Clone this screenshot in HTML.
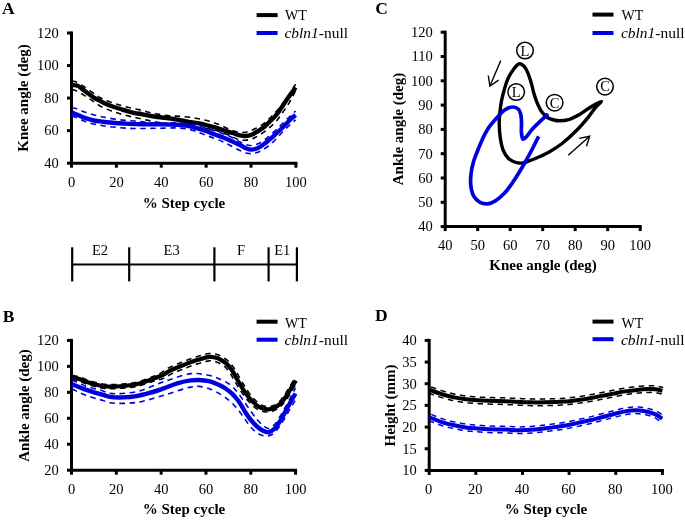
<!DOCTYPE html>
<html><head><meta charset="utf-8"><style>
html,body{margin:0;padding:0;background:#fff;}
body{width:685px;height:520px;overflow:hidden;}
svg{display:block;will-change:transform;filter:blur(0.3px);}
svg text{font-family:"Liberation Serif",serif;fill:#000;}
</style></head><body>
<svg width="685" height="520" viewBox="0 0 685 520">
<rect width="685" height="520" fill="#fff"/>
<text x="2" y="13.9" font-size="17.5" text-anchor="start" font-weight="bold" font-style="normal" >A</text>
<line x1="71.5" y1="31.5" x2="71.5" y2="164.7" stroke="#000" stroke-width="3.0" stroke-linecap="butt" />
<line x1="70.0" y1="163.2" x2="297.4" y2="163.2" stroke="#000" stroke-width="3.0" stroke-linecap="butt" />
<line x1="67.0" y1="163.2" x2="71.5" y2="163.2" stroke="#000" stroke-width="3.0" stroke-linecap="butt" />
<line x1="67.0" y1="130.64999999999998" x2="71.5" y2="130.64999999999998" stroke="#000" stroke-width="3.0" stroke-linecap="butt" />
<line x1="67.0" y1="98.1" x2="71.5" y2="98.1" stroke="#000" stroke-width="3.0" stroke-linecap="butt" />
<line x1="67.0" y1="65.55" x2="71.5" y2="65.55" stroke="#000" stroke-width="3.0" stroke-linecap="butt" />
<line x1="67.0" y1="33.0" x2="71.5" y2="33.0" stroke="#000" stroke-width="3.0" stroke-linecap="butt" />
<line x1="71.5" y1="163.2" x2="71.5" y2="167.7" stroke="#000" stroke-width="3.0" stroke-linecap="butt" />
<line x1="116.38" y1="163.2" x2="116.38" y2="167.7" stroke="#000" stroke-width="3.0" stroke-linecap="butt" />
<line x1="161.26" y1="163.2" x2="161.26" y2="167.7" stroke="#000" stroke-width="3.0" stroke-linecap="butt" />
<line x1="206.14" y1="163.2" x2="206.14" y2="167.7" stroke="#000" stroke-width="3.0" stroke-linecap="butt" />
<line x1="251.02" y1="163.2" x2="251.02" y2="167.7" stroke="#000" stroke-width="3.0" stroke-linecap="butt" />
<line x1="295.9" y1="163.2" x2="295.9" y2="167.7" stroke="#000" stroke-width="3.0" stroke-linecap="butt" />
<text x="58.7" y="168.0" font-size="14.5" text-anchor="end" font-weight="normal" font-style="normal" >40</text>
<text x="58.7" y="135.45" font-size="14.5" text-anchor="end" font-weight="normal" font-style="normal" >60</text>
<text x="58.7" y="102.89999999999999" font-size="14.5" text-anchor="end" font-weight="normal" font-style="normal" >80</text>
<text x="58.7" y="70.35" font-size="14.5" text-anchor="end" font-weight="normal" font-style="normal" >100</text>
<text x="58.7" y="37.8" font-size="14.5" text-anchor="end" font-weight="normal" font-style="normal" >120</text>
<text x="71.5" y="187.2" font-size="14.5" text-anchor="middle" font-weight="normal" font-style="normal" >0</text>
<text x="116.38" y="187.2" font-size="14.5" text-anchor="middle" font-weight="normal" font-style="normal" >20</text>
<text x="161.26" y="187.2" font-size="14.5" text-anchor="middle" font-weight="normal" font-style="normal" >40</text>
<text x="206.14" y="187.2" font-size="14.5" text-anchor="middle" font-weight="normal" font-style="normal" >60</text>
<text x="251.02" y="187.2" font-size="14.5" text-anchor="middle" font-weight="normal" font-style="normal" >80</text>
<text x="295.9" y="187.2" font-size="14.5" text-anchor="middle" font-weight="normal" font-style="normal" >100</text>
<text transform="translate(28.3,98) rotate(-90)" font-size="15" font-weight="bold" text-anchor="middle">Knee angle (deg)</text>
<text x="184" y="207.7" font-size="15" text-anchor="middle" font-weight="bold" font-style="normal" >% Step cycle</text>
<line x1="256.6" y1="15.1" x2="277.6" y2="15.1" stroke="#000" stroke-width="4" stroke-linecap="butt" />
<line x1="256.6" y1="33" x2="277.6" y2="33" stroke="#0000dc" stroke-width="4" stroke-linecap="butt" />
<text x="285" y="20.2" font-size="14" text-anchor="start" font-weight="normal" font-style="normal" >WT</text>
<text transform="translate(284.4,37.8) scale(1.075,1)" font-size="14.4"><tspan font-style="italic">cbln1</tspan>-null</text>
<path d="M72.00,81.30 C73.00,81.40 73.78,81.22 75.00,81.60 C77.22,82.28 80.92,84.62 83.80,86.40 C86.76,88.24 89.57,90.53 92.50,92.50 C95.41,94.46 98.23,96.58 101.30,98.20 C104.36,99.81 107.67,101.03 110.90,102.20 C114.07,103.35 117.32,104.26 120.50,105.20 C123.62,106.12 126.62,107.03 129.80,107.80 C133.08,108.60 136.59,109.11 139.90,109.90 C143.15,110.68 146.24,111.75 149.50,112.50 C152.81,113.26 156.23,113.85 159.60,114.40 C162.96,114.95 166.31,115.47 169.70,115.80 C173.11,116.14 176.63,116.14 180.00,116.40 C183.26,116.65 186.37,116.88 189.60,117.30 C192.93,117.74 196.39,118.34 199.70,119.00 C202.95,119.65 206.08,120.28 209.30,121.20 C212.65,122.16 216.18,123.40 219.40,124.70 C222.47,125.94 225.17,127.58 228.20,128.80 C231.30,130.05 234.68,131.56 237.80,132.10 C240.60,132.59 243.18,132.71 246.00,132.20 C249.22,131.61 252.92,129.85 256.00,128.30 C258.89,126.85 261.50,125.18 264.00,123.30 C266.50,121.42 268.71,119.24 271.00,117.00 C273.39,114.66 275.73,112.17 278.00,109.50 C280.40,106.69 282.50,104.00 285.00,100.50 C288.25,95.94 292.07,89.70 295.60,84.30" fill="none" stroke="#000" stroke-width="1.6" stroke-linejoin="round" stroke-linecap="butt" stroke-dasharray="5.5 4.5" />
<path d="M72.00,89.50 C73.00,89.77 73.77,89.81 75.00,90.30 C77.20,91.18 80.91,93.37 83.80,95.10 C86.74,96.86 89.59,98.89 92.50,100.80 C95.43,102.72 98.23,104.93 101.30,106.60 C104.36,108.26 107.67,109.58 110.90,110.80 C114.07,112.00 117.31,112.96 120.50,113.90 C123.61,114.82 126.62,115.64 129.80,116.40 C133.09,117.18 136.58,117.79 139.90,118.50 C143.14,119.19 146.26,119.92 149.50,120.60 C152.82,121.29 156.22,122.05 159.60,122.60 C162.96,123.15 166.31,123.50 169.70,123.90 C173.11,124.30 176.00,124.54 180.00,125.00 C185.57,125.65 193.83,126.54 200.00,127.50 C205.37,128.34 210.06,128.97 215.00,130.30 C220.03,131.65 225.75,133.89 229.90,135.60 C232.98,136.87 235.17,138.54 237.80,139.30 C240.20,139.99 242.71,140.25 245.00,140.20 C247.09,140.16 249.12,139.76 251.00,139.20 C252.78,138.67 254.23,137.93 256.00,137.00 C258.17,135.86 260.64,134.36 263.00,132.70 C265.63,130.85 268.58,128.47 271.00,126.30 C273.20,124.33 275.09,122.55 277.00,120.30 C279.10,117.83 281.02,114.82 283.00,112.00 C285.02,109.12 287.03,106.43 289.00,103.20 C291.24,99.52 293.40,95.07 295.60,91.00" fill="none" stroke="#000" stroke-width="1.6" stroke-linejoin="round" stroke-linecap="butt" stroke-dasharray="5.5 4.5" />
<path d="M72.00,85.10 C73.60,85.23 75.30,85.01 76.80,85.50 C78.33,86.00 79.69,87.12 81.10,88.10 C82.59,89.14 84.02,90.49 85.50,91.60 C86.95,92.69 88.43,93.67 89.90,94.70 C91.37,95.73 92.81,96.90 94.30,97.80 C95.71,98.65 97.16,99.24 98.60,100.00 C100.06,100.77 101.26,101.55 103.00,102.40 C105.41,103.57 108.85,105.09 111.80,106.20 C114.68,107.28 117.28,108.02 120.50,109.00 C124.46,110.20 129.81,111.89 133.80,112.80 C136.99,113.53 139.59,113.77 142.50,114.30 C145.43,114.84 148.37,115.50 151.30,116.00 C154.20,116.50 157.09,116.92 160.00,117.30 C162.92,117.68 165.88,117.90 168.80,118.30 C171.71,118.70 174.41,119.17 177.50,119.70 C181.02,120.31 185.28,121.19 188.80,121.80 C191.89,122.33 194.60,122.65 197.50,123.20 C200.43,123.75 203.38,124.40 206.30,125.10 C209.22,125.80 212.10,126.54 215.00,127.40 C217.94,128.27 220.87,129.36 223.80,130.30 C226.70,131.23 229.71,132.12 232.50,133.00 C235.09,133.82 237.64,134.91 240.00,135.40 C242.03,135.83 243.88,136.10 245.80,136.00 C247.72,135.90 249.65,135.50 251.50,134.80 C253.49,134.05 255.38,132.66 257.30,131.50 C259.25,130.33 261.24,129.24 263.10,127.80 C265.08,126.27 266.90,124.30 268.80,122.50 C270.73,120.67 272.84,118.86 274.60,116.90 C276.29,115.02 277.67,113.11 279.20,111.00 C280.88,108.68 282.56,105.92 284.20,103.50 C285.76,101.20 287.10,99.21 288.80,96.80 C290.83,93.92 293.33,90.53 295.60,87.40" fill="none" stroke="#000" stroke-width="4.4" stroke-linejoin="round" stroke-linecap="butt" />
<path d="M72.00,107.80 C73.33,108.03 74.41,108.05 76.00,108.50 C78.52,109.22 81.81,111.07 85.50,112.30 C90.41,113.93 96.80,115.69 103.00,117.00 C109.88,118.45 119.15,119.77 125.00,120.40 C128.84,120.82 131.36,120.72 134.60,121.00 C137.93,121.29 141.33,121.80 144.70,122.10 C148.06,122.40 151.44,122.65 154.80,122.80 C158.14,122.95 161.46,123.00 164.80,123.00 C168.16,123.00 171.83,122.74 174.90,122.80 C177.48,122.85 179.29,122.92 182.00,123.20 C185.69,123.59 190.24,124.17 195.00,125.20 C200.99,126.49 208.85,128.78 215.00,130.80 C220.40,132.58 225.41,134.42 230.00,136.50 C234.10,138.36 237.72,140.94 241.30,142.50 C244.34,143.82 247.07,145.36 250.00,145.50 C252.90,145.64 255.95,144.68 258.80,143.40 C261.97,141.98 265.07,139.31 268.00,137.00 C270.94,134.68 273.62,132.12 276.40,129.50 C279.28,126.79 281.97,123.93 285.00,121.00 C288.33,117.78 292.07,114.33 295.60,111.00" fill="none" stroke="#0000dc" stroke-width="1.6" stroke-linejoin="round" stroke-linecap="butt" stroke-dasharray="5.5 4.5" />
<path d="M72.00,116.00 C73.33,116.43 74.41,116.67 76.00,117.30 C78.52,118.29 81.78,120.43 85.50,121.70 C90.38,123.37 96.80,124.66 103.00,125.70 C109.88,126.86 119.09,127.66 125.00,128.10 C128.98,128.40 131.67,128.43 135.00,128.50 C138.33,128.57 141.67,128.53 145.00,128.50 C148.33,128.47 151.67,128.37 155.00,128.30 C158.33,128.23 161.67,128.17 165.00,128.10 C168.33,128.03 171.64,127.82 175.00,127.90 C178.41,127.98 181.95,128.06 185.30,128.60 C188.58,129.13 191.73,130.08 194.90,131.10 C198.13,132.14 201.29,133.60 204.50,134.80 C207.72,136.00 210.99,137.07 214.20,138.30 C217.42,139.53 220.76,140.79 223.80,142.20 C226.68,143.53 229.28,145.11 232.00,146.50 C234.68,147.87 237.40,149.35 240.00,150.50 C242.39,151.55 244.83,152.71 247.00,153.20 C248.78,153.60 250.34,153.70 252.00,153.60 C253.67,153.50 255.36,153.13 257.00,152.60 C258.70,152.05 260.26,151.27 262.00,150.30 C264.07,149.15 266.29,147.72 268.50,146.00 C271.11,143.97 274.01,141.22 276.50,138.70 C278.90,136.28 280.83,133.64 283.20,131.20 C285.65,128.67 288.72,125.87 291.00,123.80 C292.72,122.24 294.07,121.13 295.60,119.80" fill="none" stroke="#0000dc" stroke-width="1.6" stroke-linejoin="round" stroke-linecap="butt" stroke-dasharray="5.5 4.5" />
<path d="M72.00,112.40 C73.33,113.00 74.38,113.49 76.00,114.20 C78.49,115.28 82.39,117.13 85.50,118.20 C88.38,119.19 91.11,119.92 94.00,120.50 C96.94,121.09 99.78,121.31 103.00,121.70 C106.71,122.15 111.18,122.68 115.00,123.00 C118.48,123.29 121.20,123.41 125.00,123.60 C130.02,123.85 136.67,124.17 142.50,124.30 C148.33,124.43 154.17,124.32 160.00,124.40 C165.83,124.48 173.08,124.58 177.50,124.80 C180.19,124.93 181.88,125.04 184.00,125.30 C186.05,125.55 187.90,125.82 190.00,126.30 C192.38,126.84 194.90,127.72 197.50,128.50 C200.32,129.35 203.39,130.20 206.30,131.20 C209.22,132.20 212.09,133.40 215.00,134.50 C217.92,135.60 220.89,136.62 223.80,137.80 C226.72,138.99 229.71,140.36 232.50,141.60 C235.10,142.76 237.68,143.84 240.00,145.00 C242.08,146.04 243.82,147.43 245.80,148.20 C247.66,148.93 249.59,149.58 251.50,149.60 C253.42,149.62 255.43,149.05 257.30,148.30 C259.30,147.50 261.22,146.12 263.10,144.80 C265.06,143.43 266.91,141.81 268.80,140.20 C270.75,138.54 272.71,136.72 274.60,135.00 C276.44,133.32 278.25,131.68 280.00,130.00 C281.72,128.35 283.26,126.74 285.00,125.00 C286.91,123.09 289.10,120.77 291.00,119.00 C292.61,117.50 294.07,116.33 295.60,115.00" fill="none" stroke="#0000dc" stroke-width="4.4" stroke-linejoin="round" stroke-linecap="butt" />
<line x1="72.2" y1="264.5" x2="296.9" y2="264.5" stroke="#000" stroke-width="2.2" stroke-linecap="butt" />
<line x1="72.2" y1="247.3" x2="72.2" y2="281.4" stroke="#000" stroke-width="2.2" stroke-linecap="butt" />
<line x1="129.2" y1="247.3" x2="129.2" y2="281.4" stroke="#000" stroke-width="2.2" stroke-linecap="butt" />
<line x1="214.4" y1="247.3" x2="214.4" y2="281.4" stroke="#000" stroke-width="2.2" stroke-linecap="butt" />
<line x1="268.6" y1="247.3" x2="268.6" y2="281.4" stroke="#000" stroke-width="2.2" stroke-linecap="butt" />
<line x1="296.9" y1="247.3" x2="296.9" y2="281.4" stroke="#000" stroke-width="2.2" stroke-linecap="butt" />
<text x="100" y="254.8" font-size="14.5" text-anchor="middle" font-weight="normal" font-style="normal" >E2</text>
<text x="171.6" y="254.8" font-size="14.5" text-anchor="middle" font-weight="normal" font-style="normal" >E3</text>
<text x="241" y="254.8" font-size="14.5" text-anchor="middle" font-weight="normal" font-style="normal" >F</text>
<text x="282.3" y="254.8" font-size="14.5" text-anchor="middle" font-weight="normal" font-style="normal" >E1</text>
<text x="2.8" y="321.5" font-size="17.5" text-anchor="start" font-weight="bold" font-style="normal" >B</text>
<line x1="71.5" y1="338.9" x2="71.5" y2="471.7" stroke="#000" stroke-width="3.0" stroke-linecap="butt" />
<line x1="70.0" y1="470.2" x2="297.1" y2="470.2" stroke="#000" stroke-width="3.0" stroke-linecap="butt" />
<line x1="67.0" y1="470.2" x2="71.5" y2="470.2" stroke="#000" stroke-width="3.0" stroke-linecap="butt" />
<line x1="67.0" y1="444.24" x2="71.5" y2="444.24" stroke="#000" stroke-width="3.0" stroke-linecap="butt" />
<line x1="67.0" y1="418.28" x2="71.5" y2="418.28" stroke="#000" stroke-width="3.0" stroke-linecap="butt" />
<line x1="67.0" y1="392.32" x2="71.5" y2="392.32" stroke="#000" stroke-width="3.0" stroke-linecap="butt" />
<line x1="67.0" y1="366.36" x2="71.5" y2="366.36" stroke="#000" stroke-width="3.0" stroke-linecap="butt" />
<line x1="67.0" y1="340.4" x2="71.5" y2="340.4" stroke="#000" stroke-width="3.0" stroke-linecap="butt" />
<line x1="71.5" y1="470.2" x2="71.5" y2="474.7" stroke="#000" stroke-width="3.0" stroke-linecap="butt" />
<line x1="116.32" y1="470.2" x2="116.32" y2="474.7" stroke="#000" stroke-width="3.0" stroke-linecap="butt" />
<line x1="161.14" y1="470.2" x2="161.14" y2="474.7" stroke="#000" stroke-width="3.0" stroke-linecap="butt" />
<line x1="205.96" y1="470.2" x2="205.96" y2="474.7" stroke="#000" stroke-width="3.0" stroke-linecap="butt" />
<line x1="250.78" y1="470.2" x2="250.78" y2="474.7" stroke="#000" stroke-width="3.0" stroke-linecap="butt" />
<line x1="295.6" y1="470.2" x2="295.6" y2="474.7" stroke="#000" stroke-width="3.0" stroke-linecap="butt" />
<text x="58.7" y="475.0" font-size="14.5" text-anchor="end" font-weight="normal" font-style="normal" >20</text>
<text x="58.7" y="449.04" font-size="14.5" text-anchor="end" font-weight="normal" font-style="normal" >40</text>
<text x="58.7" y="423.08" font-size="14.5" text-anchor="end" font-weight="normal" font-style="normal" >60</text>
<text x="58.7" y="397.12" font-size="14.5" text-anchor="end" font-weight="normal" font-style="normal" >80</text>
<text x="58.7" y="371.16" font-size="14.5" text-anchor="end" font-weight="normal" font-style="normal" >100</text>
<text x="58.7" y="345.2" font-size="14.5" text-anchor="end" font-weight="normal" font-style="normal" >120</text>
<text x="71.5" y="494.1" font-size="14.5" text-anchor="middle" font-weight="normal" font-style="normal" >0</text>
<text x="116.32" y="494.1" font-size="14.5" text-anchor="middle" font-weight="normal" font-style="normal" >20</text>
<text x="161.14" y="494.1" font-size="14.5" text-anchor="middle" font-weight="normal" font-style="normal" >40</text>
<text x="205.96" y="494.1" font-size="14.5" text-anchor="middle" font-weight="normal" font-style="normal" >60</text>
<text x="250.78" y="494.1" font-size="14.5" text-anchor="middle" font-weight="normal" font-style="normal" >80</text>
<text x="295.6" y="494.1" font-size="14.5" text-anchor="middle" font-weight="normal" font-style="normal" >100</text>
<text transform="translate(28.8,405.5) rotate(-90)" font-size="15" font-weight="bold" text-anchor="middle">Ankle angle (deg)</text>
<text x="184" y="514.3" font-size="15" text-anchor="middle" font-weight="bold" font-style="normal" >% Step cycle</text>
<line x1="256.6" y1="321.7" x2="277.6" y2="321.7" stroke="#000" stroke-width="4" stroke-linecap="butt" />
<line x1="256.6" y1="339.7" x2="277.6" y2="339.7" stroke="#0000dc" stroke-width="4" stroke-linecap="butt" />
<text x="285" y="327.9" font-size="14" text-anchor="start" font-weight="normal" font-style="normal" >WT</text>
<text transform="translate(284.4,344.8) scale(1.075,1)" font-size="14.4"><tspan font-style="italic">cbln1</tspan>-null</text>
<path d="M72.50,375.26 L73.16,375.43 L73.82,375.60 L74.49,375.76 L75.17,375.93 L75.84,376.09 L76.52,376.26 L77.21,376.43 L77.89,376.61 L78.58,376.79 L79.26,376.98 L79.94,377.19 L80.62,377.40 L81.26,377.61 L81.89,377.84 L82.51,378.07 L83.11,378.31 L83.70,378.55 L84.28,378.79 L84.86,379.03 L85.42,379.26 L85.98,379.49 L86.54,379.70 L87.09,379.91 L87.65,380.11 L88.24,380.31 L88.83,380.50 L89.44,380.69 L90.04,380.88 L90.65,381.07 L91.27,381.25 L91.88,381.43 L92.49,381.60 L93.11,381.77 L93.72,381.94 L94.32,382.11 L94.92,382.27 L95.48,382.42 L96.04,382.57 L96.58,382.72 L97.12,382.87 L97.64,383.01 L98.17,383.14 L98.69,383.27 L99.21,383.40 L99.74,383.52 L100.26,383.63 L100.79,383.73 L101.34,383.83 L101.95,383.93 L102.55,384.02 L103.16,384.11 L103.77,384.19 L104.38,384.27 L105.00,384.34 L105.64,384.40 L106.28,384.45 L106.94,384.50 L107.62,384.54 L108.33,384.58 L109.05,384.60 L110.08,384.62 L111.17,384.63 L112.31,384.61 L113.49,384.59 L114.71,384.55 L115.94,384.50 L117.19,384.44 L118.45,384.37 L119.70,384.29 L120.94,384.20 L122.15,384.11 L123.33,384.01 L124.44,383.91 L125.53,383.82 L126.61,383.72 L127.69,383.62 L128.75,383.51 L129.80,383.39 L130.85,383.26 L131.89,383.11 L132.93,382.95 L133.97,382.77 L135.02,382.57 L136.06,382.35 L137.17,382.08 L138.29,381.79 L139.42,381.46 L140.56,381.11 L141.71,380.74 L142.86,380.36 L144.02,379.96 L145.17,379.55 L146.32,379.14 L147.47,378.72 L148.61,378.31 L149.73,377.89 L150.76,377.45 L151.80,377.02 L152.84,376.59 L153.86,376.15 L154.88,375.72 L155.88,375.29 L156.85,374.86 L157.81,374.42 L158.73,373.98 L159.61,373.54 L160.45,373.10 L161.25,372.66 L161.84,372.30 L162.40,371.94 L162.95,371.55 L163.50,371.16 L164.07,370.78 L164.64,370.39 L165.24,369.98 L165.85,369.56 L166.49,369.14 L167.16,368.72 L167.87,368.30 L168.60,367.90 L169.37,367.51 L170.13,367.14 L170.90,366.79 L171.66,366.45 L172.43,366.13 L173.19,365.81 L173.95,365.50 L174.70,365.20 L175.45,364.90 L176.18,364.61 L176.90,364.31 L177.62,364.01 L178.33,363.71 L179.06,363.41 L179.78,363.10 L180.50,362.80 L181.23,362.49 L181.96,362.19 L182.69,361.89 L183.42,361.59 L184.15,361.29 L184.89,361.00 L185.63,360.70 L186.37,360.41 L187.11,360.13 L187.85,359.85 L188.59,359.57 L189.33,359.29 L190.07,359.02 L190.82,358.75 L191.56,358.48 L192.31,358.22 L193.05,357.96 L193.80,357.70 L194.54,357.44 L195.29,357.19 L196.03,356.95 L196.78,356.70 L197.54,356.45 L198.32,356.19 L199.09,355.94 L199.87,355.70 L200.63,355.47 L201.39,355.24 L202.13,355.02 L202.85,354.82 L203.55,354.63 L204.21,354.46 L204.64,354.36 L205.04,354.26 L205.44,354.16 L205.84,354.07 L206.24,353.98 L206.64,353.89 L207.05,353.81 L207.46,353.74 L207.88,353.68 L208.32,353.62 L208.76,353.58 L209.21,353.54 L209.66,353.52 L210.10,353.51 L210.54,353.51 L210.98,353.51 L211.42,353.53 L211.85,353.56 L212.29,353.59 L212.71,353.63 L213.14,353.68 L213.56,353.73 L213.97,353.79 L214.39,353.86 L214.80,353.93 L215.21,354.01 L215.62,354.10 L216.03,354.20 L216.44,354.32 L216.85,354.44 L217.26,354.57 L217.66,354.70 L218.07,354.85 L218.47,355.00 L218.87,355.16 L219.27,355.33 L219.69,355.52 L220.10,355.72 L220.50,355.93 L220.89,356.14 L221.26,356.35 L221.63,356.57 L221.99,356.79 L222.34,357.00 L222.68,357.22 L223.01,357.43 L223.34,357.64 L223.66,357.85 L224.00,358.06 L224.35,358.28 L224.71,358.50 L225.10,358.74 L225.49,358.98 L225.91,359.25 L226.34,359.53 L226.77,359.83 L227.22,360.16 L227.67,360.52 L228.13,360.90 L228.59,361.32 L229.15,361.87 L229.70,362.45 L230.24,363.06 L230.77,363.68 L231.30,364.33 L231.81,364.99 L232.32,365.67 L232.82,366.35 L233.32,367.04 L233.81,367.73 L234.29,368.43 L234.77,369.14 L235.31,369.97 L235.85,370.84 L236.36,371.72 L236.86,372.61 L237.35,373.50 L237.83,374.40 L238.31,375.29 L238.78,376.17 L239.24,377.04 L239.70,377.89 L240.16,378.72 L240.62,379.53 L241.08,380.31 L241.54,381.11 L242.01,381.90 L242.47,382.69 L242.93,383.47 L243.39,384.24 L243.85,385.01 L244.31,385.77 L244.78,386.52 L245.24,387.26 L245.71,387.99 L246.18,388.72 L246.64,389.41 L247.11,390.11 L247.58,390.81 L248.05,391.50 L248.52,392.18 L248.99,392.86 L249.46,393.52 L249.93,394.16 L250.39,394.78 L250.85,395.38 L251.30,395.95 L251.75,396.49 L252.10,396.91 L252.46,397.32 L252.82,397.71 L253.18,398.09 L253.54,398.47 L253.90,398.83 L254.27,399.20 L254.64,399.55 L255.01,399.91 L255.38,400.26 L255.75,400.61 L256.12,400.97 L256.46,401.28 L256.78,401.59 L257.09,401.89 L257.38,402.17 L257.66,402.44 L257.94,402.70 L258.21,402.94 L258.47,403.17 L258.73,403.38 L258.99,403.58 L259.24,403.76 L259.52,403.95 L259.83,404.14 L260.17,404.34 L260.52,404.54 L260.87,404.72 L261.24,404.90 L261.60,405.08 L261.98,405.24 L262.35,405.39 L262.73,405.54 L263.11,405.67 L263.48,405.79 L263.86,405.91 L264.26,406.01 L264.66,406.11 L265.07,406.20 L265.48,406.29 L265.88,406.37 L266.29,406.45 L266.69,406.52 L267.08,406.58 L267.47,406.62 L267.86,406.65 L268.24,406.66 L268.61,406.66 L269.00,406.64 L269.40,406.61 L269.81,406.57 L270.22,406.51 L270.64,406.43 L271.05,406.34 L271.47,406.24 L271.89,406.12 L272.31,405.99 L272.73,405.85 L273.14,405.69 L273.55,405.52 L273.99,405.32 L274.43,405.11 L274.88,404.87 L275.32,404.61 L275.77,404.33 L276.22,404.04 L276.67,403.72 L277.11,403.39 L277.56,403.05 L278.01,402.69 L278.45,402.31 L278.87,401.92 L279.35,401.46 L279.82,400.98 L280.28,400.46 L280.75,399.92 L281.21,399.36 L281.68,398.78 L282.14,398.18 L282.60,397.56 L283.07,396.93 L283.53,396.29 L284.00,395.64 L284.45,394.99 L284.94,394.29 L285.43,393.57 L285.91,392.82 L286.40,392.05 L286.88,391.26 L287.36,390.47 L287.84,389.67 L288.31,388.88 L288.78,388.09 L289.25,387.32 L289.70,386.56 L290.15,385.83 L290.50,385.26 L290.85,384.70 L291.19,384.16 L291.52,383.62 L291.84,383.09 L292.17,382.57 L292.49,382.05 L292.80,381.54 L293.12,381.02 L293.44,380.51 L293.76,379.99 L294.09,379.46" fill="none" stroke="#000" stroke-width="1.6" stroke-linejoin="round" stroke-linecap="butt" stroke-dasharray="5.5 4.5" />
<path d="M71.50,379.14 L72.18,379.31 L72.86,379.49 L73.54,379.65 L74.22,379.82 L74.89,379.99 L75.56,380.15 L76.22,380.32 L76.87,380.49 L77.51,380.67 L78.15,380.85 L78.77,381.03 L79.38,381.22 L79.94,381.41 L80.50,381.61 L81.05,381.83 L81.61,382.05 L82.18,382.28 L82.74,382.52 L83.32,382.76 L83.90,383.00 L84.49,383.24 L85.10,383.47 L85.71,383.71 L86.34,383.93 L86.97,384.14 L87.59,384.35 L88.23,384.55 L88.86,384.75 L89.49,384.94 L90.13,385.13 L90.76,385.32 L91.39,385.50 L92.02,385.68 L92.64,385.85 L93.26,386.02 L93.86,386.19 L94.42,386.34 L94.97,386.49 L95.52,386.64 L96.06,386.79 L96.61,386.94 L97.17,387.08 L97.72,387.22 L98.29,387.36 L98.86,387.49 L99.45,387.62 L100.04,387.73 L100.65,387.84 L101.30,387.95 L101.95,388.06 L102.60,388.15 L103.25,388.24 L103.91,388.33 L104.58,388.40 L105.27,388.47 L105.96,388.53 L106.68,388.58 L107.41,388.63 L108.16,388.66 L108.95,388.69 L110.04,388.72 L111.18,388.73 L112.38,388.72 L113.60,388.69 L114.86,388.66 L116.13,388.61 L117.41,388.55 L118.70,388.48 L119.98,388.40 L121.24,388.31 L122.48,388.22 L123.68,388.12 L124.79,388.03 L125.90,387.94 L127.00,387.84 L128.10,387.74 L129.19,387.63 L130.29,387.51 L131.39,387.37 L132.50,387.22 L133.60,387.05 L134.72,386.87 L135.84,386.65 L136.98,386.41 L138.19,386.13 L139.40,385.81 L140.61,385.46 L141.81,385.10 L143.01,384.71 L144.21,384.32 L145.40,383.91 L146.57,383.50 L147.74,383.08 L148.89,382.67 L150.02,382.27 L151.14,381.91 L152.22,381.63 L153.30,381.35 L154.39,381.07 L155.49,380.79 L156.58,380.50 L157.67,380.20 L158.75,379.90 L159.82,379.58 L160.88,379.25 L161.92,378.90 L162.95,378.54 L163.95,378.15 L164.78,377.78 L165.58,377.40 L166.33,377.02 L167.03,376.62 L167.68,376.20 L168.30,375.79 L168.89,375.40 L169.46,375.02 L170.01,374.67 L170.54,374.34 L171.08,374.04 L171.63,373.75 L172.25,373.45 L172.90,373.15 L173.57,372.85 L174.25,372.56 L174.96,372.28 L175.67,371.99 L176.40,371.71 L177.14,371.42 L177.89,371.14 L178.65,370.85 L179.41,370.55 L180.17,370.25 L180.91,369.95 L181.63,369.66 L182.36,369.37 L183.08,369.08 L183.80,368.79 L184.52,368.50 L185.24,368.22 L185.95,367.94 L186.67,367.66 L187.38,367.39 L188.09,367.12 L188.81,366.85 L189.52,366.59 L190.24,366.33 L190.96,366.07 L191.69,365.82 L192.41,365.56 L193.13,365.31 L193.86,365.07 L194.58,364.82 L195.30,364.58 L196.02,364.35 L196.75,364.11 L197.47,363.88 L198.20,363.65 L198.94,363.42 L199.69,363.19 L200.44,362.96 L201.19,362.73 L201.94,362.51 L202.67,362.30 L203.38,362.10 L204.06,361.92 L204.72,361.75 L205.33,361.59 L205.92,361.46 L206.32,361.37 L206.71,361.28 L207.08,361.20 L207.42,361.12 L207.74,361.06 L208.04,361.00 L208.32,360.95 L208.59,360.91 L208.85,360.88 L209.11,360.85 L209.36,360.83 L209.62,360.82 L209.89,360.81 L210.17,360.81 L210.45,360.82 L210.74,360.83 L211.03,360.85 L211.32,360.87 L211.62,360.90 L211.92,360.93 L212.21,360.97 L212.51,361.02 L212.81,361.07 L213.11,361.12 L213.40,361.18 L213.69,361.25 L213.98,361.31 L214.27,361.37 L214.56,361.43 L214.85,361.49 L215.14,361.55 L215.42,361.62 L215.70,361.69 L215.99,361.77 L216.26,361.86 L216.53,361.95 L216.79,362.04 L217.05,362.14 L217.31,362.25 L217.59,362.37 L217.87,362.50 L218.16,362.65 L218.46,362.80 L218.77,362.96 L219.09,363.14 L219.42,363.32 L219.77,363.51 L220.13,363.71 L220.53,363.93 L220.94,364.14 L221.33,364.34 L221.70,364.53 L222.05,364.72 L222.39,364.90 L222.72,365.09 L223.03,365.27 L223.34,365.46 L223.64,365.66 L223.93,365.87 L224.21,366.09 L224.63,366.46 L225.06,366.86 L225.51,367.31 L225.97,367.79 L226.44,368.31 L226.91,368.86 L227.38,369.43 L227.85,370.03 L228.31,370.65 L228.78,371.29 L229.24,371.93 L229.68,372.56 L230.16,373.27 L230.63,374.01 L231.10,374.78 L231.57,375.58 L232.04,376.42 L232.52,377.27 L233.00,378.14 L233.48,379.02 L233.97,379.90 L234.46,380.79 L234.97,381.67 L235.48,382.53 L235.96,383.34 L236.44,384.13 L236.92,384.92 L237.40,385.71 L237.88,386.50 L238.37,387.29 L238.86,388.07 L239.35,388.85 L239.85,389.63 L240.35,390.40 L240.85,391.16 L241.37,391.92 L241.85,392.63 L242.34,393.34 L242.84,394.05 L243.34,394.76 L243.85,395.47 L244.36,396.17 L244.87,396.87 L245.38,397.55 L245.90,398.22 L246.42,398.87 L246.94,399.50 L247.45,400.11 L247.88,400.59 L248.30,401.06 L248.71,401.52 L249.13,401.96 L249.54,402.38 L249.94,402.79 L250.35,403.19 L250.74,403.58 L251.14,403.96 L251.52,404.33 L251.91,404.68 L252.28,405.03 L252.58,405.33 L252.89,405.62 L253.20,405.92 L253.51,406.22 L253.83,406.52 L254.16,406.83 L254.50,407.14 L254.86,407.45 L255.24,407.76 L255.64,408.07 L256.05,408.37 L256.48,408.65 L256.93,408.93 L257.39,409.20 L257.85,409.46 L258.32,409.71 L258.80,409.95 L259.29,410.18 L259.79,410.39 L260.29,410.60 L260.79,410.79 L261.31,410.97 L261.82,411.14 L262.34,411.29 L262.86,411.43 L263.38,411.56 L263.91,411.68 L264.44,411.79 L264.99,411.87 L265.55,411.93 L266.11,411.98 L266.68,412.01 L267.26,412.02 L267.83,412.02 L268.41,411.99 L268.99,411.94 L269.57,411.87 L270.14,411.78 L270.72,411.66 L271.28,411.53 L271.85,411.39 L272.41,411.22 L272.96,411.04 L273.51,410.84 L274.06,410.62 L274.59,410.39 L275.12,410.14 L275.65,409.88 L276.22,409.57 L276.78,409.24 L277.33,408.89 L277.88,408.52 L278.41,408.14 L278.93,407.74 L279.45,407.33 L279.96,406.90 L280.46,406.46 L280.95,406.01 L281.43,405.55 L281.93,405.08 L282.48,404.52 L283.03,403.93 L283.56,403.32 L284.09,402.70 L284.60,402.06 L285.10,401.41 L285.59,400.75 L286.07,400.09 L286.54,399.42 L287.01,398.75 L287.48,398.08 L287.95,397.41 L288.46,396.65 L288.97,395.86 L289.47,395.06 L289.97,394.24 L290.46,393.42 L290.95,392.60 L291.42,391.78 L291.89,390.98 L292.35,390.19 L292.79,389.42 L293.23,388.68 L293.65,387.97 L294.00,387.39 L294.34,386.83 L294.67,386.28 L294.99,385.74 L295.31,385.21 L295.63,384.68 L295.94,384.16 L296.25,383.64 L296.56,383.12 L296.88,382.60 L297.19,382.07 L297.51,381.54" fill="none" stroke="#000" stroke-width="1.6" stroke-linejoin="round" stroke-linecap="butt" stroke-dasharray="5.5 4.5" />
<path d="M72.00,377.20 C74.67,377.90 77.44,378.47 80.00,379.30 C82.43,380.09 84.62,381.19 87.00,382.00 C89.42,382.82 92.00,383.55 94.40,384.20 C96.65,384.81 98.68,385.40 101.00,385.80 C103.52,386.23 105.94,386.51 109.00,386.60 C113.12,386.72 118.81,386.40 123.50,386.00 C127.96,385.62 132.14,385.28 136.50,384.30 C141.10,383.26 145.95,381.37 150.40,379.80 C154.59,378.33 159.02,376.91 162.50,375.20 C165.37,373.79 167.35,371.96 170.00,370.60 C172.77,369.18 175.87,368.11 178.80,366.90 C181.70,365.71 184.58,364.50 187.50,363.40 C190.41,362.30 193.36,361.26 196.30,360.30 C199.20,359.36 202.58,358.28 205.00,357.70 C206.70,357.29 207.93,356.98 209.40,356.90 C210.86,356.82 212.36,356.95 213.80,357.20 C215.23,357.45 216.65,357.84 218.00,358.40 C219.38,358.97 220.65,359.78 222.00,360.60 C223.47,361.49 225.01,362.24 226.50,363.60 C228.45,365.38 230.47,368.11 232.30,370.80 C234.36,373.83 236.15,377.69 238.10,381.00 C239.98,384.19 241.83,387.35 243.80,390.30 C245.67,393.11 247.70,396.04 249.60,398.30 C251.15,400.14 252.71,401.60 254.20,403.00 C255.50,404.23 256.57,405.38 258.00,406.30 C259.51,407.27 261.31,408.10 263.10,408.60 C264.91,409.11 266.91,409.44 268.80,409.30 C270.74,409.16 272.74,408.59 274.60,407.70 C276.63,406.73 278.58,405.24 280.40,403.50 C282.48,401.51 284.35,398.84 286.20,396.20 C288.20,393.34 290.18,389.71 291.90,386.90 C293.32,384.57 294.50,382.63 295.80,380.50" fill="none" stroke="#000" stroke-width="4.2" stroke-linejoin="round" stroke-linecap="butt" />
<path d="M72.00,380.10 C76.50,382.03 80.65,384.17 85.50,385.90 C90.90,387.82 98.50,389.45 103.00,390.90 C105.88,391.82 106.85,392.96 110.00,393.40 C116.00,394.23 128.07,393.45 136.90,391.57 C146.01,389.63 154.78,384.70 163.80,381.70 C172.75,378.72 184.30,374.51 190.80,373.60 C194.35,373.10 196.24,373.44 199.20,373.70 C202.58,374.00 206.44,374.57 210.00,375.50 C213.64,376.45 217.41,377.84 220.80,379.40 C224.06,380.90 227.28,382.53 230.00,384.60 C232.62,386.59 234.79,389.01 236.90,391.50 C239.03,394.01 240.66,396.73 242.70,399.60 C245.00,402.85 247.57,406.63 250.00,410.00 C252.34,413.25 254.65,416.77 257.00,419.50 C258.99,421.81 260.93,423.95 263.00,425.50 C264.78,426.83 266.68,428.56 268.50,428.50 C270.35,428.44 272.28,426.64 274.00,425.00 C276.18,422.93 278.07,419.53 280.00,416.50 C282.08,413.23 284.02,409.55 286.00,406.00 C288.02,402.39 290.29,398.27 292.00,395.00 C293.35,392.42 294.33,390.33 295.50,388.00" fill="none" stroke="#0000dc" stroke-width="1.6" stroke-linejoin="round" stroke-linecap="butt" stroke-dasharray="5.5 4.5" />
<path d="M72.00,389.00 C76.50,391.07 80.64,393.36 85.50,395.20 C90.89,397.24 98.49,399.08 103.00,400.50 C105.87,401.40 106.86,402.32 110.00,402.80 C116.01,403.71 128.01,403.61 136.90,402.37 C145.94,401.11 154.84,397.74 163.80,395.20 C172.81,392.65 184.31,388.33 190.80,387.10 C194.35,386.43 196.24,386.17 199.20,386.40 C202.59,386.66 206.47,387.71 210.00,389.00 C213.68,390.34 217.54,392.42 220.80,394.40 C223.75,396.19 226.30,398.08 228.80,400.20 C231.30,402.31 233.61,404.65 235.80,407.10 C238.01,409.58 239.98,412.29 242.00,415.00 C244.05,417.76 245.94,420.85 248.00,423.50 C249.94,426.00 251.86,428.60 254.00,430.50 C255.89,432.18 257.87,433.58 260.00,434.50 C262.05,435.38 264.43,436.04 266.50,436.00 C268.41,435.96 270.25,435.51 272.00,434.50 C274.13,433.26 276.11,430.81 278.00,428.50 C280.14,425.89 282.05,422.65 284.00,419.50 C286.06,416.17 288.02,412.35 290.00,409.00 C291.85,405.87 293.67,403.00 295.50,400.00" fill="none" stroke="#0000dc" stroke-width="1.6" stroke-linejoin="round" stroke-linecap="butt" stroke-dasharray="5.5 4.5" />
<path d="M72.00,384.20 C76.50,386.00 80.67,387.91 85.50,389.60 C90.92,391.50 98.48,393.57 103.00,394.90 C105.85,395.74 107.26,396.46 110.00,396.90 C113.74,397.49 119.05,397.54 123.50,397.40 C127.88,397.27 132.12,396.87 136.50,396.12 C141.08,395.33 145.83,394.01 150.40,392.70 C154.93,391.40 159.34,389.86 163.80,388.30 C168.31,386.73 172.75,384.62 177.30,383.30 C181.75,382.00 186.81,380.92 190.80,380.40 C193.91,379.99 196.31,379.89 199.20,380.00 C202.30,380.12 205.97,380.57 208.80,381.20 C211.12,381.71 212.99,382.43 215.00,383.20 C216.99,383.96 218.90,384.81 220.80,385.80 C222.74,386.81 224.63,387.91 226.50,389.20 C228.47,390.56 230.45,392.02 232.30,393.80 C234.33,395.74 236.42,398.27 238.10,400.50 C239.61,402.50 240.73,404.44 242.00,406.50 C243.30,408.61 244.34,410.77 245.80,413.00 C247.45,415.52 249.50,418.45 251.50,420.80 C253.35,422.98 255.29,424.99 257.30,426.70 C259.17,428.29 261.08,429.88 263.10,430.80 C264.93,431.64 266.95,432.48 268.80,432.20 C270.79,431.90 272.82,430.35 274.60,428.70 C276.76,426.70 278.55,423.54 280.40,420.60 C282.44,417.36 284.27,413.52 286.20,410.00 C288.11,406.52 290.20,402.60 291.90,399.60 C293.22,397.29 294.30,395.53 295.50,393.50" fill="none" stroke="#0000dc" stroke-width="4.4" stroke-linejoin="round" stroke-linecap="butt" />
<text x="375.3" y="14" font-size="17.5" text-anchor="start" font-weight="bold" font-style="normal" >C</text>
<line x1="445.2" y1="30.69999999999999" x2="445.2" y2="228.1" stroke="#000" stroke-width="3.0" stroke-linecap="butt" />
<line x1="443.7" y1="226.6" x2="641.7" y2="226.6" stroke="#000" stroke-width="3.0" stroke-linecap="butt" />
<line x1="440.7" y1="226.6" x2="445.2" y2="226.6" stroke="#000" stroke-width="3.0" stroke-linecap="butt" />
<line x1="440.7" y1="202.29999999999998" x2="445.2" y2="202.29999999999998" stroke="#000" stroke-width="3.0" stroke-linecap="butt" />
<line x1="440.7" y1="178.0" x2="445.2" y2="178.0" stroke="#000" stroke-width="3.0" stroke-linecap="butt" />
<line x1="440.7" y1="153.7" x2="445.2" y2="153.7" stroke="#000" stroke-width="3.0" stroke-linecap="butt" />
<line x1="440.7" y1="129.39999999999998" x2="445.2" y2="129.39999999999998" stroke="#000" stroke-width="3.0" stroke-linecap="butt" />
<line x1="440.7" y1="105.09999999999998" x2="445.2" y2="105.09999999999998" stroke="#000" stroke-width="3.0" stroke-linecap="butt" />
<line x1="440.7" y1="80.79999999999998" x2="445.2" y2="80.79999999999998" stroke="#000" stroke-width="3.0" stroke-linecap="butt" />
<line x1="440.7" y1="56.49999999999997" x2="445.2" y2="56.49999999999997" stroke="#000" stroke-width="3.0" stroke-linecap="butt" />
<line x1="440.7" y1="32.19999999999999" x2="445.2" y2="32.19999999999999" stroke="#000" stroke-width="3.0" stroke-linecap="butt" />
<line x1="445.2" y1="226.6" x2="445.2" y2="231.1" stroke="#000" stroke-width="3.0" stroke-linecap="butt" />
<line x1="477.7" y1="226.6" x2="477.7" y2="231.1" stroke="#000" stroke-width="3.0" stroke-linecap="butt" />
<line x1="510.2" y1="226.6" x2="510.2" y2="231.1" stroke="#000" stroke-width="3.0" stroke-linecap="butt" />
<line x1="542.7" y1="226.6" x2="542.7" y2="231.1" stroke="#000" stroke-width="3.0" stroke-linecap="butt" />
<line x1="575.2" y1="226.6" x2="575.2" y2="231.1" stroke="#000" stroke-width="3.0" stroke-linecap="butt" />
<line x1="607.7" y1="226.6" x2="607.7" y2="231.1" stroke="#000" stroke-width="3.0" stroke-linecap="butt" />
<line x1="640.2" y1="226.6" x2="640.2" y2="231.1" stroke="#000" stroke-width="3.0" stroke-linecap="butt" />
<text x="432.7" y="231.4" font-size="14.5" text-anchor="end" font-weight="normal" font-style="normal" >40</text>
<text x="432.7" y="207.1" font-size="14.5" text-anchor="end" font-weight="normal" font-style="normal" >50</text>
<text x="432.7" y="182.8" font-size="14.5" text-anchor="end" font-weight="normal" font-style="normal" >60</text>
<text x="432.7" y="158.5" font-size="14.5" text-anchor="end" font-weight="normal" font-style="normal" >70</text>
<text x="432.7" y="134.2" font-size="14.5" text-anchor="end" font-weight="normal" font-style="normal" >80</text>
<text x="432.7" y="109.89999999999998" font-size="14.5" text-anchor="end" font-weight="normal" font-style="normal" >90</text>
<text x="432.7" y="85.59999999999998" font-size="14.5" text-anchor="end" font-weight="normal" font-style="normal" >100</text>
<text x="432.7" y="61.29999999999997" font-size="14.5" text-anchor="end" font-weight="normal" font-style="normal" >110</text>
<text x="432.7" y="36.999999999999986" font-size="14.5" text-anchor="end" font-weight="normal" font-style="normal" >120</text>
<text x="445.2" y="249.9" font-size="14.5" text-anchor="middle" font-weight="normal" font-style="normal" >40</text>
<text x="477.7" y="249.9" font-size="14.5" text-anchor="middle" font-weight="normal" font-style="normal" >50</text>
<text x="510.2" y="249.9" font-size="14.5" text-anchor="middle" font-weight="normal" font-style="normal" >60</text>
<text x="542.7" y="249.9" font-size="14.5" text-anchor="middle" font-weight="normal" font-style="normal" >70</text>
<text x="575.2" y="249.9" font-size="14.5" text-anchor="middle" font-weight="normal" font-style="normal" >80</text>
<text x="607.7" y="249.9" font-size="14.5" text-anchor="middle" font-weight="normal" font-style="normal" >90</text>
<text x="640.2" y="249.9" font-size="14.5" text-anchor="middle" font-weight="normal" font-style="normal" >100</text>
<text transform="translate(403,129) rotate(-90)" font-size="15" font-weight="bold" text-anchor="middle">Ankle angle (deg)</text>
<text x="543" y="269.9" font-size="15" text-anchor="middle" font-weight="bold" font-style="normal" >Knee angle (deg)</text>
<line x1="592.5" y1="14.6" x2="613.5" y2="14.6" stroke="#000" stroke-width="4" stroke-linecap="butt" />
<line x1="592.5" y1="33" x2="613.5" y2="33" stroke="#0000dc" stroke-width="4" stroke-linecap="butt" />
<text x="621.5" y="20.299999999999997" font-size="14" text-anchor="start" font-weight="normal" font-style="normal" >WT</text>
<text transform="translate(620.9,37.7) scale(1.075,1)" font-size="14.4"><tspan font-style="italic">cbln1</tspan>-null</text>
<path d="M519.40,63.80 C521.14,63.59 523.16,65.36 524.60,66.90 C526.32,68.74 527.37,71.87 528.50,74.60 C529.69,77.49 530.61,80.72 531.50,83.80 C532.38,86.85 532.91,89.94 533.80,93.00 C534.71,96.11 535.64,99.25 536.90,102.30 C538.19,105.42 539.60,108.86 541.50,111.50 C543.25,113.93 545.48,116.27 547.70,117.70 C549.62,118.94 551.73,119.48 553.80,120.00 C555.83,120.51 557.77,120.81 560.00,120.80 C562.61,120.78 565.52,120.49 568.50,119.60 C572.12,118.52 576.25,116.32 580.00,114.20 C583.92,111.98 587.73,108.69 591.50,106.50 C594.89,104.53 601.21,101.09 601.50,101.50 C601.73,101.83 598.16,104.41 596.30,106.50 C593.69,109.43 590.85,113.96 587.70,117.80 C584.22,122.04 580.31,126.65 576.20,130.80 C571.99,135.05 567.34,139.39 562.70,143.00 C558.32,146.41 553.61,149.49 549.20,152.00 C545.29,154.22 541.29,155.92 537.70,157.50 C534.62,158.85 531.82,160.04 529.00,161.00 C526.43,161.87 523.97,162.96 521.50,163.10 C519.14,163.24 516.68,162.77 514.50,162.00 C512.35,161.23 510.25,160.15 508.50,158.50 C506.51,156.62 504.81,153.98 503.50,151.00 C501.90,147.37 501.02,142.57 500.30,138.00 C499.52,133.04 499.19,127.04 499.20,122.30 C499.21,118.36 499.62,115.09 500.00,111.50 C500.38,107.92 500.78,104.47 501.50,100.80 C502.28,96.82 503.49,92.29 504.60,88.50 C505.57,85.16 506.33,82.22 507.70,79.20 C509.13,76.05 511.03,72.65 513.10,70.00 C514.98,67.59 517.30,64.05 519.40,63.80 Z" fill="none" stroke="#000" stroke-width="3.4" stroke-linejoin="round" stroke-linecap="butt" />
<path d="M546.90,115.00 C544.47,117.30 542.05,119.52 539.60,121.90 C537.05,124.38 534.20,126.98 531.90,129.60 C529.77,132.02 527.95,135.34 526.20,137.00 C525.07,138.07 523.77,139.49 523.00,139.20 C522.01,138.82 521.78,135.37 521.50,133.00 C521.13,129.94 521.65,125.57 521.50,122.30 C521.37,119.52 521.38,116.90 520.80,114.60 C520.30,112.60 519.79,110.47 518.50,109.20 C517.20,107.93 515.03,107.04 513.00,107.00 C510.50,106.95 507.17,108.37 504.60,110.00 C501.76,111.80 499.41,114.96 496.90,117.70 C494.27,120.58 491.34,123.89 489.20,126.90 C487.35,129.51 486.15,131.60 484.60,134.60 C482.59,138.50 480.35,143.99 478.50,148.50 C476.78,152.70 475.04,156.65 473.80,160.80 C472.59,164.86 471.60,168.98 471.10,173.10 C470.61,177.18 470.31,181.47 470.80,185.40 C471.27,189.15 472.08,193.29 473.80,196.20 C475.31,198.77 477.61,201.04 480.00,202.30 C482.27,203.50 485.17,204.03 487.70,203.80 C490.30,203.57 492.84,202.31 495.40,200.80 C498.48,198.98 501.70,196.16 504.60,193.10 C507.88,189.63 510.95,184.96 513.80,180.80 C516.57,176.76 519.11,172.49 521.50,168.50 C523.72,164.80 525.81,161.12 527.70,157.70 C529.38,154.66 530.66,152.18 532.30,149.00 C534.27,145.17 536.57,140.53 538.70,136.30" fill="none" stroke="#0000dc" stroke-width="3.7" stroke-linejoin="round" stroke-linecap="butt" />
<circle cx="546.6" cy="115.2" r="2.3" fill="#0000dc"/>
<circle cx="525" cy="50.5" r="8.3" fill="none" stroke="#000" stroke-width="1.5"/>
<text x="525" y="55.5" font-size="14.5" text-anchor="middle" font-weight="normal" font-style="normal" >L</text>
<circle cx="516.2" cy="92" r="8.3" fill="none" stroke="#000" stroke-width="1.5"/>
<text x="516.2" y="97" font-size="14.5" text-anchor="middle" font-weight="normal" font-style="normal" >L</text>
<circle cx="554.6" cy="102.7" r="8.3" fill="none" stroke="#000" stroke-width="1.5"/>
<text x="554.6" y="107.5" font-size="14.5" text-anchor="middle" font-weight="normal" font-style="normal" >C</text>
<circle cx="605" cy="86.6" r="8.3" fill="none" stroke="#000" stroke-width="1.5"/>
<text x="605" y="91.39999999999999" font-size="14.5" text-anchor="middle" font-weight="normal" font-style="normal" >C</text>
<line x1="500.8" y1="60.4" x2="490.1" y2="85.6" stroke="#000" stroke-width="1.4" stroke-linecap="butt" />
<polyline points="488.3,75.5 489.9,86 498.6,80.1" fill="none" stroke="#000" stroke-width="1.4" stroke-linejoin="miter"/>
<line x1="568.2" y1="155.2" x2="589.4" y2="136.5" stroke="#000" stroke-width="1.4" stroke-linecap="butt" />
<polyline points="579.2,138.4 589.7,136.2 586.5,146.3" fill="none" stroke="#000" stroke-width="1.4" stroke-linejoin="miter"/>
<text x="375" y="321.2" font-size="17.5" text-anchor="start" font-weight="bold" font-style="normal" >D</text>
<line x1="429.2" y1="338.9" x2="429.2" y2="471.9" stroke="#000" stroke-width="3.0" stroke-linecap="butt" />
<line x1="427.7" y1="470.4" x2="663.9" y2="470.4" stroke="#000" stroke-width="3.0" stroke-linecap="butt" />
<line x1="424.7" y1="470.4" x2="429.2" y2="470.4" stroke="#000" stroke-width="3.0" stroke-linecap="butt" />
<line x1="424.7" y1="448.7333333333333" x2="429.2" y2="448.7333333333333" stroke="#000" stroke-width="3.0" stroke-linecap="butt" />
<line x1="424.7" y1="427.06666666666666" x2="429.2" y2="427.06666666666666" stroke="#000" stroke-width="3.0" stroke-linecap="butt" />
<line x1="424.7" y1="405.4" x2="429.2" y2="405.4" stroke="#000" stroke-width="3.0" stroke-linecap="butt" />
<line x1="424.7" y1="383.7333333333333" x2="429.2" y2="383.7333333333333" stroke="#000" stroke-width="3.0" stroke-linecap="butt" />
<line x1="424.7" y1="362.06666666666666" x2="429.2" y2="362.06666666666666" stroke="#000" stroke-width="3.0" stroke-linecap="butt" />
<line x1="424.7" y1="340.4" x2="429.2" y2="340.4" stroke="#000" stroke-width="3.0" stroke-linecap="butt" />
<line x1="429.2" y1="470.4" x2="429.2" y2="474.9" stroke="#000" stroke-width="3.0" stroke-linecap="butt" />
<line x1="475.84" y1="470.4" x2="475.84" y2="474.9" stroke="#000" stroke-width="3.0" stroke-linecap="butt" />
<line x1="522.48" y1="470.4" x2="522.48" y2="474.9" stroke="#000" stroke-width="3.0" stroke-linecap="butt" />
<line x1="569.12" y1="470.4" x2="569.12" y2="474.9" stroke="#000" stroke-width="3.0" stroke-linecap="butt" />
<line x1="615.76" y1="470.4" x2="615.76" y2="474.9" stroke="#000" stroke-width="3.0" stroke-linecap="butt" />
<line x1="662.4" y1="470.4" x2="662.4" y2="474.9" stroke="#000" stroke-width="3.0" stroke-linecap="butt" />
<text x="416.7" y="475.2" font-size="14.5" text-anchor="end" font-weight="normal" font-style="normal" >10</text>
<text x="416.7" y="453.5333333333333" font-size="14.5" text-anchor="end" font-weight="normal" font-style="normal" >15</text>
<text x="416.7" y="431.8666666666667" font-size="14.5" text-anchor="end" font-weight="normal" font-style="normal" >20</text>
<text x="416.7" y="410.2" font-size="14.5" text-anchor="end" font-weight="normal" font-style="normal" >25</text>
<text x="416.7" y="388.5333333333333" font-size="14.5" text-anchor="end" font-weight="normal" font-style="normal" >30</text>
<text x="416.7" y="366.8666666666667" font-size="14.5" text-anchor="end" font-weight="normal" font-style="normal" >35</text>
<text x="416.7" y="345.2" font-size="14.5" text-anchor="end" font-weight="normal" font-style="normal" >40</text>
<text x="428.59999999999997" y="494.1" font-size="14.5" text-anchor="middle" font-weight="normal" font-style="normal" >0</text>
<text x="475.23999999999995" y="494.1" font-size="14.5" text-anchor="middle" font-weight="normal" font-style="normal" >20</text>
<text x="521.88" y="494.1" font-size="14.5" text-anchor="middle" font-weight="normal" font-style="normal" >40</text>
<text x="568.52" y="494.1" font-size="14.5" text-anchor="middle" font-weight="normal" font-style="normal" >60</text>
<text x="615.16" y="494.1" font-size="14.5" text-anchor="middle" font-weight="normal" font-style="normal" >80</text>
<text x="661.8" y="494.1" font-size="14.5" text-anchor="middle" font-weight="normal" font-style="normal" >100</text>
<text transform="translate(394.5,405.5) rotate(-90)" font-size="15" font-weight="bold" text-anchor="middle">Height (mm)</text>
<text x="546" y="514.3" font-size="15" text-anchor="middle" font-weight="bold" font-style="normal" >% Step cycle</text>
<line x1="592.5" y1="321.6" x2="613.5" y2="321.6" stroke="#000" stroke-width="4" stroke-linecap="butt" />
<line x1="592.5" y1="339.2" x2="613.5" y2="339.2" stroke="#0000dc" stroke-width="4" stroke-linecap="butt" />
<text x="621.5" y="327.79999999999995" font-size="14" text-anchor="start" font-weight="normal" font-style="normal" >WT</text>
<text transform="translate(620.9,344.5) scale(1.075,1)" font-size="14.4"><tspan font-style="italic">cbln1</tspan>-null</text>
<path d="M431.11,386.89 L432.16,387.26 L433.21,387.65 L434.27,388.03 L435.31,388.42 L436.36,388.80 L437.39,389.18 L438.42,389.55 L439.45,389.92 L440.46,390.27 L441.47,390.61 L442.47,390.93 L443.46,391.24 L444.42,391.53 L445.38,391.81 L446.33,392.08 L447.28,392.34 L448.23,392.60 L449.18,392.84 L450.12,393.08 L451.07,393.32 L452.02,393.54 L452.97,393.76 L453.92,393.97 L454.87,394.17 L455.82,394.36 L456.76,394.55 L457.71,394.73 L458.66,394.90 L459.61,395.06 L460.56,395.21 L461.52,395.36 L462.47,395.51 L463.43,395.65 L464.39,395.78 L465.35,395.90 L466.30,396.02 L467.25,396.14 L468.20,396.24 L469.15,396.34 L470.10,396.43 L471.06,396.52 L472.01,396.60 L472.97,396.67 L473.94,396.75 L474.90,396.81 L475.87,396.88 L476.84,396.94 L477.81,397.01 L478.76,397.07 L479.71,397.12 L480.65,397.17 L481.59,397.21 L482.53,397.25 L483.47,397.29 L484.43,397.33 L485.39,397.36 L486.37,397.40 L487.36,397.43 L488.38,397.47 L489.41,397.50 L490.61,397.54 L491.83,397.57 L493.06,397.60 L494.30,397.63 L495.56,397.66 L496.85,397.69 L498.16,397.71 L499.49,397.74 L500.85,397.78 L502.24,397.81 L503.66,397.85 L505.12,397.90 L507.04,397.98 L509.05,398.06 L511.15,398.16 L513.30,398.27 L515.49,398.38 L517.70,398.49 L519.90,398.60 L522.08,398.70 L524.20,398.80 L526.26,398.88 L528.22,398.95 L530.08,399.00 L531.44,399.03 L532.75,399.05 L534.01,399.07 L535.24,399.08 L536.44,399.08 L537.62,399.08 L538.80,399.08 L539.98,399.07 L541.18,399.06 L542.39,399.04 L543.65,399.02 L544.94,399.00 L546.45,398.97 L548.00,398.94 L549.59,398.91 L551.19,398.87 L552.81,398.83 L554.44,398.78 L556.06,398.72 L557.66,398.66 L559.24,398.58 L560.79,398.50 L562.30,398.41 L563.75,398.31 L564.97,398.21 L566.17,398.11 L567.35,397.99 L568.51,397.87 L569.67,397.74 L570.81,397.60 L571.95,397.46 L573.08,397.32 L574.20,397.17 L575.32,397.03 L576.45,396.88 L577.57,396.73 L578.59,396.59 L579.61,396.45 L580.62,396.32 L581.61,396.17 L582.60,396.03 L583.59,395.89 L584.56,395.74 L585.54,395.59 L586.51,395.44 L587.49,395.28 L588.46,395.12 L589.43,394.95 L590.40,394.78 L591.36,394.60 L592.32,394.42 L593.28,394.23 L594.24,394.04 L595.21,393.85 L596.18,393.65 L597.15,393.45 L598.12,393.25 L599.10,393.05 L600.08,392.86 L601.06,392.66 L602.04,392.47 L603.01,392.28 L603.99,392.09 L604.96,391.89 L605.94,391.70 L606.91,391.51 L607.89,391.31 L608.87,391.12 L609.84,390.93 L610.82,390.74 L611.80,390.55 L612.77,390.36 L613.73,390.17 L614.69,389.98 L615.65,389.79 L616.62,389.60 L617.59,389.40 L618.56,389.21 L619.54,389.02 L620.52,388.84 L621.50,388.65 L622.49,388.47 L623.48,388.30 L624.48,388.14 L625.47,387.99 L626.46,387.84 L627.45,387.69 L628.44,387.55 L629.43,387.42 L630.42,387.29 L631.41,387.16 L632.41,387.05 L633.40,386.93 L634.39,386.82 L635.38,386.72 L636.38,386.62 L637.37,386.52 L638.38,386.43 L639.41,386.34 L640.44,386.25 L641.47,386.17 L642.50,386.09 L643.52,386.02 L644.53,385.96 L645.52,385.90 L646.48,385.86 L647.43,385.82 L648.32,385.80 L648.99,385.79 L649.63,385.78 L650.25,385.77 L650.87,385.77 L651.48,385.77 L652.08,385.78 L652.69,385.80 L653.29,385.82 L653.90,385.86 L654.52,385.90 L655.14,385.95 L655.78,386.02 L656.44,386.11 L657.10,386.21 L657.75,386.32 L658.38,386.44 L659.01,386.57 L659.62,386.70 L660.22,386.84 L660.80,386.97 L661.38,387.10 L661.95,387.23 L662.50,387.35 L663.07,387.47" fill="none" stroke="#000" stroke-width="1.5" stroke-linejoin="round" stroke-linecap="butt" stroke-dasharray="5.5 4.5" />
<path d="M428.89,393.11 L429.93,393.48 L430.96,393.85 L432.00,394.23 L433.04,394.61 L434.09,395.00 L435.14,395.38 L436.20,395.76 L437.26,396.14 L438.32,396.51 L439.39,396.87 L440.47,397.22 L441.54,397.56 L442.55,397.86 L443.55,398.15 L444.55,398.44 L445.55,398.71 L446.54,398.98 L447.54,399.24 L448.53,399.49 L449.53,399.73 L450.53,399.97 L451.52,400.20 L452.52,400.42 L453.53,400.63 L454.52,400.83 L455.52,401.03 L456.52,401.22 L457.52,401.40 L458.52,401.57 L459.52,401.73 L460.51,401.89 L461.51,402.04 L462.51,402.18 L463.50,402.32 L464.50,402.45 L465.50,402.58 L466.50,402.69 L467.50,402.81 L468.49,402.91 L469.49,403.00 L470.49,403.09 L471.48,403.18 L472.47,403.25 L473.46,403.33 L474.44,403.40 L475.43,403.47 L476.41,403.53 L477.39,403.59 L478.37,403.65 L479.35,403.71 L480.32,403.76 L481.28,403.81 L482.25,403.85 L483.21,403.89 L484.18,403.92 L485.15,403.96 L486.14,403.99 L487.14,404.03 L488.15,404.06 L489.19,404.10 L490.42,404.14 L491.65,404.17 L492.90,404.20 L494.16,404.23 L495.42,404.26 L496.71,404.29 L498.01,404.31 L499.34,404.34 L500.68,404.37 L502.06,404.41 L503.45,404.45 L504.88,404.50 L506.77,404.57 L508.76,404.66 L510.83,404.75 L512.98,404.86 L515.16,404.97 L517.37,405.08 L519.58,405.19 L521.77,405.30 L523.92,405.39 L526.01,405.48 L528.02,405.55 L529.92,405.60 L531.32,405.63 L532.65,405.65 L533.94,405.67 L535.19,405.68 L536.42,405.68 L537.63,405.68 L538.83,405.68 L540.04,405.67 L541.25,405.66 L542.49,405.64 L543.76,405.62 L545.06,405.60 L546.58,405.57 L548.14,405.54 L549.74,405.51 L551.36,405.47 L553.00,405.42 L554.65,405.37 L556.30,405.32 L557.94,405.25 L559.57,405.18 L561.16,405.09 L562.73,405.00 L564.25,404.89 L565.52,404.79 L566.78,404.68 L568.01,404.56 L569.23,404.43 L570.42,404.30 L571.60,404.16 L572.76,404.01 L573.92,403.87 L575.06,403.72 L576.19,403.57 L577.31,403.42 L578.43,403.27 L579.47,403.13 L580.50,402.99 L581.53,402.85 L582.54,402.71 L583.55,402.56 L584.56,402.42 L585.56,402.26 L586.56,402.11 L587.56,401.95 L588.56,401.79 L589.56,401.62 L590.57,401.45 L591.57,401.27 L592.57,401.09 L593.56,400.90 L594.55,400.71 L595.54,400.51 L596.52,400.32 L597.49,400.12 L598.47,399.92 L599.44,399.72 L600.41,399.52 L601.37,399.33 L602.34,399.14 L603.31,398.95 L604.29,398.75 L605.27,398.56 L606.24,398.37 L607.22,398.17 L608.19,397.98 L609.17,397.79 L610.14,397.60 L611.11,397.41 L612.08,397.22 L613.06,397.03 L614.03,396.84 L615.00,396.65 L615.98,396.46 L616.95,396.26 L617.91,396.07 L618.87,395.88 L619.83,395.69 L620.79,395.50 L621.74,395.32 L622.69,395.15 L623.63,394.98 L624.58,394.81 L625.52,394.66 L626.47,394.51 L627.43,394.37 L628.38,394.23 L629.34,394.09 L630.30,393.96 L631.26,393.84 L632.22,393.72 L633.18,393.60 L634.14,393.49 L635.10,393.38 L636.06,393.28 L637.02,393.18 L637.99,393.09 L638.98,393.00 L639.98,392.91 L640.98,392.83 L641.98,392.75 L642.97,392.67 L643.95,392.61 L644.91,392.55 L645.85,392.50 L646.76,392.45 L647.63,392.42 L648.48,392.40 L649.10,392.39 L649.71,392.38 L650.30,392.37 L650.87,392.37 L651.41,392.37 L651.95,392.38 L652.47,392.39 L652.98,392.42 L653.49,392.44 L654.00,392.48 L654.51,392.52 L655.02,392.58 L655.53,392.64 L656.04,392.72 L656.56,392.81 L657.09,392.91 L657.64,393.03 L658.19,393.15 L658.76,393.27 L659.33,393.41 L659.92,393.54 L660.52,393.67 L661.13,393.81 L661.73,393.93" fill="none" stroke="#000" stroke-width="1.5" stroke-linejoin="round" stroke-linecap="butt" stroke-dasharray="5.5 4.5" />
<path d="M430.00,390.00 C434.17,391.47 438.38,393.15 442.50,394.40 C446.44,395.60 450.28,396.58 454.20,397.40 C458.08,398.21 461.99,398.82 465.90,399.30 C469.79,399.78 473.70,400.05 477.60,400.30 C481.50,400.55 485.11,400.66 489.30,400.80 C494.15,400.97 499.16,401.00 505.00,401.20 C512.37,401.46 522.72,402.14 530.00,402.30 C535.63,402.42 539.71,402.40 545.00,402.30 C550.96,402.19 558.16,402.04 564.00,401.60 C569.03,401.22 573.52,400.59 578.00,400.00 C582.16,399.45 586.03,398.89 590.00,398.20 C593.93,397.52 597.80,396.67 601.70,395.90 C605.60,395.13 609.51,394.35 613.40,393.60 C617.27,392.85 621.12,392.02 625.00,391.40 C628.88,390.78 632.79,390.28 636.70,389.90 C640.59,389.52 645.00,389.17 648.40,389.10 C651.03,389.05 653.08,389.04 655.40,389.30 C657.74,389.57 660.07,390.23 662.40,390.70" fill="none" stroke="#000" stroke-width="4.0" stroke-linejoin="round" stroke-linecap="butt" />
<path d="M431.20,414.42 L432.25,414.83 L433.31,415.26 L434.36,415.68 L435.41,416.10 L436.45,416.53 L437.49,416.94 L438.51,417.35 L439.53,417.74 L440.54,418.12 L441.54,418.49 L442.52,418.83 L443.51,419.16 L444.44,419.45 L445.39,419.73 L446.33,420.00 L447.27,420.26 L448.21,420.51 L449.16,420.75 L450.10,420.98 L451.06,421.21 L452.01,421.43 L452.97,421.65 L453.93,421.86 L454.90,422.08 L455.86,422.28 L456.81,422.48 L457.76,422.67 L458.72,422.86 L459.67,423.04 L460.63,423.22 L461.58,423.39 L462.53,423.55 L463.49,423.71 L464.44,423.86 L465.39,424.00 L466.34,424.13 L467.28,424.25 L468.22,424.37 L469.17,424.47 L470.12,424.57 L471.07,424.66 L472.03,424.74 L472.99,424.82 L473.96,424.90 L474.93,424.98 L475.91,425.06 L476.88,425.13 L477.87,425.21 L478.84,425.29 L479.79,425.37 L480.74,425.44 L481.69,425.52 L482.63,425.59 L483.58,425.66 L484.53,425.72 L485.48,425.79 L486.45,425.85 L487.43,425.90 L488.43,425.96 L489.44,426.00 L490.64,426.05 L491.87,426.09 L493.14,426.12 L494.43,426.14 L495.74,426.16 L497.06,426.17 L498.40,426.19 L499.75,426.20 L501.09,426.22 L502.44,426.24 L503.77,426.27 L505.10,426.30 L506.39,426.35 L507.67,426.40 L508.95,426.47 L510.21,426.53 L511.46,426.60 L512.70,426.67 L513.93,426.74 L515.16,426.80 L516.37,426.84 L517.58,426.88 L518.78,426.90 L519.98,426.90 L521.19,426.89 L522.41,426.86 L523.64,426.82 L524.86,426.77 L526.09,426.72 L527.31,426.65 L528.54,426.57 L529.78,426.49 L531.01,426.40 L532.25,426.31 L533.49,426.21 L534.72,426.11 L535.95,426.00 L537.19,425.89 L538.42,425.76 L539.66,425.63 L540.91,425.49 L542.15,425.35 L543.39,425.20 L544.64,425.04 L545.88,424.89 L547.12,424.73 L548.36,424.58 L549.59,424.43 L550.78,424.28 L551.96,424.13 L553.14,423.99 L554.30,423.85 L555.46,423.70 L556.61,423.55 L557.76,423.40 L558.90,423.25 L560.04,423.08 L561.18,422.91 L562.31,422.74 L563.44,422.55 L564.58,422.35 L565.73,422.13 L566.89,421.91 L568.05,421.67 L569.21,421.43 L570.38,421.18 L571.55,420.93 L572.71,420.67 L573.87,420.42 L575.03,420.16 L576.18,419.92 L577.31,419.67 L578.35,419.45 L579.38,419.24 L580.40,419.03 L581.40,418.82 L582.40,418.61 L583.39,418.40 L584.37,418.19 L585.35,417.98 L586.32,417.76 L587.29,417.55 L588.26,417.32 L589.23,417.09 L590.19,416.86 L591.14,416.61 L592.10,416.37 L593.07,416.11 L594.03,415.85 L595.00,415.59 L595.97,415.33 L596.94,415.06 L597.91,414.80 L598.89,414.53 L599.88,414.27 L600.86,414.01 L601.84,413.75 L602.82,413.50 L603.80,413.24 L604.77,412.99 L605.75,412.74 L606.73,412.49 L607.71,412.24 L608.69,411.99 L609.67,411.74 L610.64,411.49 L611.62,411.24 L612.59,411.00 L613.55,410.76 L614.49,410.51 L615.45,410.26 L616.41,410.00 L617.39,409.74 L618.37,409.49 L619.36,409.24 L620.36,408.99 L621.36,408.76 L622.38,408.54 L623.42,408.33 L624.44,408.15 L625.44,407.98 L626.44,407.83 L627.44,407.68 L628.45,407.54 L629.47,407.41 L630.49,407.29 L631.53,407.19 L632.57,407.11 L633.61,407.04 L634.66,407.00 L635.72,406.99 L636.78,407.00 L637.86,407.04 L638.94,407.11 L640.03,407.21 L641.11,407.33 L642.19,407.46 L643.25,407.62 L644.31,407.79 L645.34,407.97 L646.35,408.17 L647.32,408.37 L648.27,408.58 L649.17,408.79 L649.87,408.96 L650.54,409.14 L651.20,409.32 L651.85,409.51 L652.49,409.71 L653.12,409.92 L653.74,410.14 L654.35,410.36 L654.97,410.61 L655.58,410.86 L656.20,411.13 L656.83,411.42 L657.50,411.76 L658.16,412.11 L658.81,412.48 L659.43,412.86 L660.04,413.25 L660.64,413.63 L661.22,414.01 L661.78,414.39 L662.34,414.76 L662.88,415.12 L663.41,415.46 L663.96,415.81" fill="none" stroke="#0000dc" stroke-width="1.5" stroke-linejoin="round" stroke-linecap="butt" stroke-dasharray="5.5 4.5" />
<path d="M428.80,420.58 L429.84,420.98 L430.86,421.38 L431.89,421.80 L432.93,422.22 L433.98,422.65 L435.04,423.07 L436.10,423.49 L437.17,423.91 L438.24,424.31 L439.32,424.71 L440.41,425.08 L441.49,425.44 L442.52,425.76 L443.53,426.07 L444.54,426.35 L445.55,426.63 L446.55,426.90 L447.55,427.15 L448.55,427.40 L449.54,427.63 L450.53,427.86 L451.52,428.09 L452.51,428.31 L453.50,428.52 L454.49,428.74 L455.48,428.94 L456.47,429.15 L457.46,429.34 L458.46,429.53 L459.45,429.71 L460.45,429.89 L461.45,430.06 L462.45,430.22 L463.45,430.38 L464.45,430.53 L465.46,430.67 L466.46,430.80 L467.47,430.92 L468.47,431.03 L469.47,431.13 L470.47,431.23 L471.46,431.32 L472.45,431.40 L473.43,431.48 L474.41,431.56 L475.39,431.64 L476.36,431.71 L477.33,431.79 L478.30,431.87 L479.26,431.95 L480.22,432.02 L481.18,432.10 L482.14,432.17 L483.10,432.24 L484.08,432.31 L485.06,432.37 L486.06,432.44 L487.07,432.49 L488.10,432.55 L489.16,432.60 L490.42,432.65 L491.70,432.68 L493.00,432.71 L494.32,432.74 L495.65,432.76 L496.99,432.77 L498.33,432.79 L499.67,432.80 L501.00,432.82 L502.32,432.84 L503.62,432.87 L504.90,432.90 L506.13,432.94 L507.37,433.00 L508.60,433.06 L509.84,433.12 L511.09,433.19 L512.34,433.26 L513.60,433.33 L514.87,433.39 L516.15,433.44 L517.43,433.48 L518.72,433.50 L520.02,433.50 L521.31,433.48 L522.59,433.46 L523.87,433.42 L525.14,433.37 L526.42,433.31 L527.69,433.24 L528.96,433.16 L530.23,433.08 L531.49,432.99 L532.76,432.89 L534.02,432.79 L535.28,432.69 L536.55,432.58 L537.83,432.46 L539.11,432.33 L540.38,432.19 L541.65,432.05 L542.92,431.90 L544.19,431.75 L545.44,431.60 L546.70,431.44 L547.94,431.28 L549.18,431.13 L550.41,430.97 L551.59,430.83 L552.76,430.68 L553.94,430.54 L555.11,430.40 L556.29,430.25 L557.46,430.10 L558.64,429.94 L559.81,429.78 L560.99,429.62 L562.18,429.44 L563.37,429.25 L564.56,429.05 L565.76,428.84 L566.97,428.61 L568.18,428.38 L569.38,428.14 L570.57,427.89 L571.77,427.63 L572.95,427.38 L574.12,427.12 L575.29,426.86 L576.43,426.61 L577.57,426.37 L578.69,426.13 L579.71,425.91 L580.73,425.70 L581.74,425.49 L582.75,425.28 L583.76,425.07 L584.76,424.86 L585.76,424.64 L586.76,424.43 L587.76,424.21 L588.76,423.98 L589.76,423.75 L590.77,423.51 L591.78,423.26 L592.78,423.01 L593.77,422.75 L594.76,422.49 L595.75,422.23 L596.73,421.96 L597.70,421.69 L598.68,421.43 L599.64,421.16 L600.61,420.90 L601.57,420.65 L602.54,420.39 L603.51,420.14 L604.48,419.89 L605.45,419.63 L606.43,419.38 L607.40,419.13 L608.37,418.88 L609.35,418.63 L610.32,418.38 L611.29,418.13 L612.26,417.89 L613.23,417.64 L614.21,417.40 L615.19,417.15 L616.17,416.89 L617.15,416.64 L618.11,416.38 L619.07,416.13 L620.01,415.88 L620.95,415.64 L621.89,415.41 L622.81,415.20 L623.73,415.00 L624.64,414.82 L625.56,414.65 L626.49,414.50 L627.44,414.35 L628.38,414.21 L629.32,414.08 L630.26,413.96 L631.19,413.85 L632.11,413.76 L633.03,413.69 L633.93,413.64 L634.84,413.60 L635.73,413.59 L636.62,413.60 L637.51,413.63 L638.44,413.69 L639.38,413.78 L640.33,413.88 L641.29,414.00 L642.25,414.14 L643.20,414.30 L644.14,414.46 L645.05,414.64 L645.94,414.83 L646.80,415.01 L647.63,415.21 L648.24,415.36 L648.83,415.51 L649.40,415.67 L649.95,415.83 L650.47,416.00 L650.99,416.17 L651.49,416.34 L651.99,416.53 L652.49,416.72 L652.98,416.93 L653.48,417.15 L653.97,417.38 L654.47,417.62 L654.96,417.88 L655.46,418.17 L655.97,418.48 L656.49,418.81 L657.02,419.15 L657.57,419.51 L658.12,419.88 L658.69,420.26 L659.27,420.64 L659.86,421.03 L660.44,421.39" fill="none" stroke="#0000dc" stroke-width="1.5" stroke-linejoin="round" stroke-linecap="butt" stroke-dasharray="5.5 4.5" />
<path d="M430.00,417.50 C434.17,419.10 438.36,420.98 442.50,422.30 C446.43,423.55 450.28,424.45 454.20,425.30 C458.08,426.15 461.99,426.87 465.90,427.40 C469.79,427.93 473.70,428.18 477.60,428.50 C481.50,428.82 485.11,429.12 489.30,429.30 C494.15,429.51 499.83,429.45 505.00,429.60 C510.06,429.75 515.00,430.23 520.00,430.20 C525.00,430.17 530.01,429.82 535.00,429.40 C540.01,428.98 545.09,428.31 550.00,427.70 C554.75,427.11 559.35,426.60 564.00,425.80 C568.68,425.00 573.52,423.85 578.00,422.90 C582.16,422.02 586.04,421.25 590.00,420.30 C593.94,419.35 597.80,418.22 601.70,417.20 C605.60,416.18 609.50,415.17 613.40,414.20 C617.27,413.24 621.10,412.05 625.00,411.40 C628.87,410.75 632.81,410.20 636.70,410.30 C640.61,410.40 645.03,411.19 648.40,412.00 C651.07,412.64 653.14,413.33 655.40,414.40 C657.75,415.51 659.93,417.20 662.20,418.60" fill="none" stroke="#0000dc" stroke-width="4.0" stroke-linejoin="round" stroke-linecap="butt" />
</svg>
</body></html>
